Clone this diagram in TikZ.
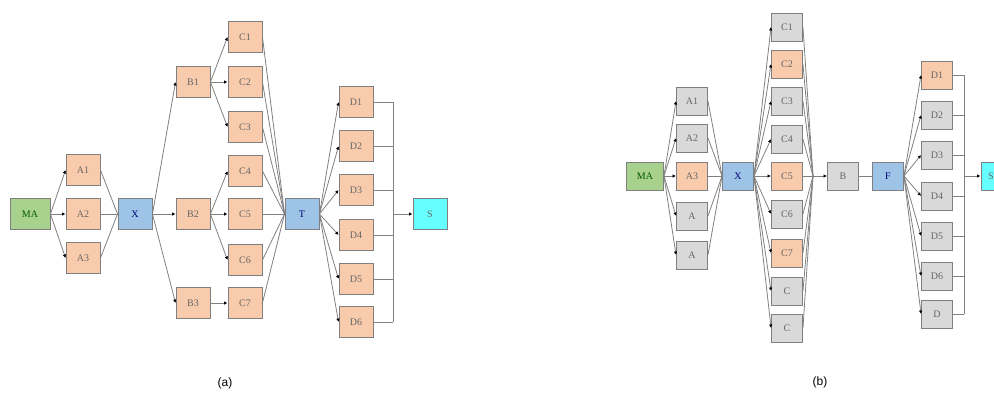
\documentclass[tikz,border=0pt]{standalone}
\usepackage{fontspec}
\setmainfont{Liberation Serif}
\newfontfamily\labfont{Liberation Sans}
\usetikzlibrary{arrows.meta}
\definecolor{peach}{HTML}{F8CBAD}
\definecolor{grn}{HTML}{A9D18E}
\definecolor{blu}{HTML}{9DC3E6}
\definecolor{cyn}{HTML}{66FFFF}
\definecolor{gry}{HTML}{D9D9D9}
\definecolor{edgec}{HTML}{7F7F7F}
\begin{document}
\begin{tikzpicture}[x=1pt,y=-1pt,
 box/.style={draw=edgec, line width=0.9pt, inner sep=0pt, font=\fontsize{10}{11}\selectfont, text=black!60},
 abox/.style={box, minimum width=34pt, minimum height=31pt},
 bbox/.style={box, minimum width=31pt, minimum height=28pt},
 conn/.style={draw=black!50, line width=0.8pt},
 arr/.style={conn, -{Latex[length=3.5pt,width=3.5pt,black]}},
 caption/.style={font=\labfont\fontsize{12}{14}\selectfont}
]
\useasboundingbox (0,0) rectangle (994,399);
\clip (0,0) rectangle (994,399);
% ---------------- panel (a) ----------------
\node[abox, fill=grn, minimum width=40pt, text=green!35!black] (aMA) at (30,214) {MA};
\foreach \i/\y in {1/170,2/214,3/258} \node[abox, fill=peach] (aA\i) at (83,\y) {A\i};
\node[abox, fill=blu, text=blue!45!black] (aX) at (135,214) {X};
\foreach \i/\y in {1/82,2/214,3/303} \node[abox, fill=peach] (aB\i) at (193,\y) {B\i};
\foreach \i/\y in {1/37,2/82,3/127,4/171,5/214,6/260,7/303} \node[abox, fill=peach] (aC\i) at (245,\y) {C\i};
\node[abox, fill=blu, text=blue!45!black] (aT) at (302,214) {T};
\foreach \i/\y in {1/102,2/146,3/190,4/235,5/279,6/322} \node[abox, fill=peach] (aD\i) at (356,\y) {D\i};
\node[abox, fill=cyn] (aS) at (430,214) {S};
\coordinate (abus) at (393,214);
\foreach \i in {1,2,3} {\draw[arr] (aMA.east) -- (aA\i.west); \draw[conn] (aA\i.east) -- (aX.west);}
\foreach \i in {1,2,3} \draw[arr] (aX.east) -- (aB\i.west);
\foreach \i in {1,2,3} \draw[arr] (aB1.east) -- (aC\i.west);
\foreach \i in {4,5,6} \draw[arr] (aB2.east) -- (aC\i.west);
\draw[arr] (aB3.east) -- (aC7.west);
\foreach \i in {1,...,7} \draw[conn] (aC\i.east) -- (aT.west);
\foreach \i in {1,...,6} {\draw[arr] (aT.east) -- (aD\i.west); \draw[conn] (aD\i.east) -- (aD\i.east -| abus);}
\draw[conn] (aD1.east -| abus) -- (aD6.east -| abus);
\draw[arr] (abus) -- (aS.west);
\node[caption] (capa) at (225,383) {(a)};
% ---------------- panel (b) ----------------
\node[bbox, fill=grn, minimum width=37pt, text=green!35!black] (bMA) at (645,176) {MA};
\foreach \i/\y/\t/\c in {1/101/A1/gry,2/138/A2/gry,3/176/A3/peach,4/216/A/gry,5/255/A/gry}
  \node[bbox, fill=\c] (bA\i) at (692,\y) {\t};
\node[bbox, fill=blu, text=blue!45!black] (bX) at (738,176) {X};
\foreach \i/\y/\t/\c in {1/27/C1/gry,2/64/C2/peach,3/101/C3/gry,4/139/C4/gry,5/176/C5/peach,6/214/C6/gry,7/253/C7/peach,8/291/C/gry,9/328/C/gry}
  \node[bbox, fill=\c] (bC\i) at (787,\y) {\t};
\coordinate (bJ) at (813,176);
\node[bbox, fill=gry] (bB) at (843,176) {B};
\node[bbox, fill=blu, text=blue!45!black] (bF) at (888,176) {F};
\foreach \i/\y/\t/\c in {1/75/D1/peach,2/115/D2/gry,3/155/D3/gry,4/196/D4/gry,5/236/D5/gry,6/276/D6/gry,7/314/D/gry}
  \node[bbox, fill=\c] (bD\i) at (937,\y) {\t};
\node[bbox, fill=cyn, text width=31pt, align=left] (bS) at (996.5,176) {\hspace*{7pt}S};
\coordinate (bbus) at (964,176);
\foreach \i in {1,...,5} {\draw[arr] (bMA.east) -- (bA\i.west); \draw[conn] (bA\i.east) -- (bX.west);}
\foreach \i in {1,...,9} {\draw[arr] (bX.east) -- (bC\i.west); \draw[conn] (bC\i.east) -- (bJ);}
\draw[arr] (bJ) -- (bB.west);
\draw[conn] (bB.east) -- (bF.west);
\foreach \i in {1,...,7} {\draw[arr] (bF.east) -- (bD\i.west); \draw[conn] (bD\i.east) -- (bD\i.east -| bbus);}
\draw[conn] (bD1.east -| bbus) -- (bD7.east -| bbus);
\draw[arr] (bbus) -- (bS.west);
\node[caption] (capb) at (820,382) {(b)};
\end{tikzpicture}
\end{document}
